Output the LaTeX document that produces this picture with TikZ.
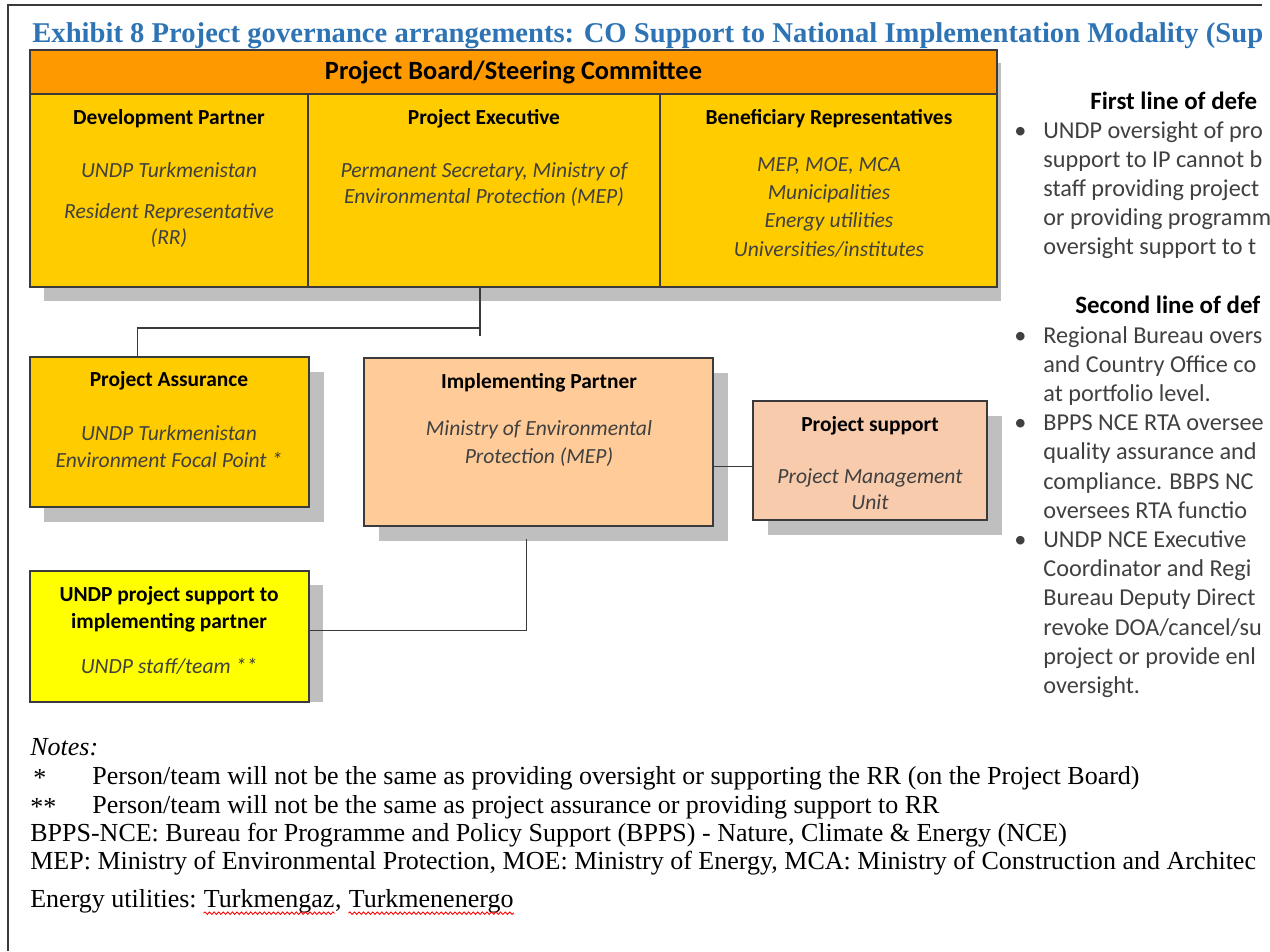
\documentclass[tikz,border=0pt]{standalone}
\usepackage{fontspec}
\setmainfont{Liberation Serif}
\newfontfamily\calibri{Carlito}
\usetikzlibrary{positioning,fit,shadows,decorations.pathmorphing}

\definecolor{titleblue}{HTML}{2E74B5}
\definecolor{boardorange}{HTML}{FF9900}
\definecolor{boardyellow}{HTML}{FFCC00}
\definecolor{ipfill}{HTML}{FFCC99}
\definecolor{psfill}{HTML}{F8CBAD}
\definecolor{undpyellow}{HTML}{FFFF00}
\definecolor{shadowgray}{HTML}{BFBFBF}
\definecolor{edgegray}{HTML}{3A3A3A}
\definecolor{textgray}{HTML}{404040}

\begin{document}
\begin{tikzpicture}[x=0.02cm, y=-0.02cm,
  box/.style={draw=edgegray, line width=1.1pt, inner sep=0pt},
  shadowed/.style={drop shadow={shadow xshift=0.29cm, shadow yshift=-0.29cm,
    fill=shadowgray, opacity=1}},
  head/.style={anchor=base, inner sep=0pt, font=\calibri\bfseries\fontsize{12.2}{14}\selectfont},
  sub/.style={anchor=base, inner sep=0pt, text=textgray,
    font=\calibri\itshape\fontsize{12.3}{14}\selectfont},
  side/.style={anchor=base west, inner sep=0pt, text=textgray,
    font=\calibri\fontsize{13.8}{16}\selectfont},
  sidehead/.style={anchor=base west, inner sep=0pt, font=\calibri\bfseries\fontsize{14.2}{16}\selectfont},
  note/.style={anchor=base west, inner sep=0pt, font=\fontsize{14.8}{17}\selectfont},
  link/.style={draw=edgegray, line width=1.1pt},
  spell/.style={draw=red, line width=0.5pt, decorate,
    decoration={snake, amplitude=0.7pt, segment length=2.6pt}}
]
\useasboundingbox (0,0) rectangle (1270,951);

% page frame
\draw[line width=1.2pt, edgegray] (8,951) -- (8,5) -- (1262,5);

\node[anchor=base west, inner sep=0pt, text=titleblue,
  font=\bfseries\fontsize{16.3}{18}\selectfont] (title) at (32,42)
  {Exhibit 8 Project governance arrangements: CO Support to National Implementation Modality (Sup};

% project board
\fill[shadowgray] (44,287) rectangle (1001,301);
\fill[shadowgray] (997,63) rectangle (1001,301);
\node[box, fill=boardorange, fit={(30,50) (997,94)}] (board) {};
\node[box, fill=boardyellow, fit={(30,94) (308,287)}] (dev) {};
\node[box, fill=boardyellow, fit={(308,94) (660,287)}] (exec) {};
\node[box, fill=boardyellow, fit={(660,94) (997,287)}] (bene) {};
\node[inner sep=0pt, font=\calibri\bfseries\fontsize{15}{17}\selectfont] (boardtxt)
  at (board.center) {Project Board/Steering Committee};

\node[head] (devhd) at (169,124) {Development Partner};
\node[sub] (dev1) at (169,177) {UNDP Turkmenistan};
\node[sub] (dev2) at (169,218) {Resident Representative};
\node[sub] (dev3) at (169,244) {(RR)};

\node[head] (exechd) at (484,124) {Project Executive};
\node[sub] (exec1) at (484,177) {Permanent Secretary, Ministry of};
\node[sub] (exec2) at (484,203) {Environmental Protection (MEP)};

\node[head] (benehd) at (829,124) {Beneficiary Representatives};
\node[sub] (bene1) at (829,171) {MEP, MOE, MCA};
\node[sub] (bene2) at (829,199) {Municipalities};
\node[sub] (bene3) at (829,227) {Energy utilities};
\node[sub] (bene4) at (829,256) {Universities/institutes};

% lower boxes
\node[box, shadowed, fill=boardyellow, fit={(30,357) (309,507)}] (pa) {};
\node[head] (pahd) at (169,386) {Project Assurance};
\node[sub] (pa1) at (169,440) {UNDP Turkmenistan};
\node[sub] (pa2) at (169,467) {Environment Focal Point *};

\node[box, shadowed, fill=ipfill, fit={(364,358) (713,526)}] (ip) {};
\node[head] (iphd) at (539,388) {Implementing Partner};
\node[sub] (ip1) at (539,435) {Ministry of Environmental};
\node[sub] (ip2) at (539,463) {Protection (MEP)};

\node[box, shadowed, fill=psfill, fit={(753,401) (987,520)}] (ps) {};
\node[head] (pshd) at (870,431) {Project support};
\node[sub] (ps1) at (870,483) {Project Management};
\node[sub] (ps2) at (870,509) {Unit};

\fill[shadowgray] (309,585) rectangle (323,702);
\node[box, fill=undpyellow, fit={(30,571) (309,702)}] (sup) {};
\node[head] (suphd1) at (169,601) {UNDP project support to};
\node[head] (suphd2) at (169,628) {implementing partner};
\node[sub] (sup1) at (169,673) {UNDP staff/team **};

% connectors
\draw[link] ([shift={(-4,0)}]exec.south) -- ++(0,48);
\draw[link] ([shift={(-32,0)}]pa.north) |- ([shift={(-4,40)}]exec.south);
\draw[link] ([shift={(0,6)}]ps.west -| ip.east) -- ([shift={(0,6)}]ps.west);
\draw[link] ([shift={(-12,12)}]ip.south) |- ([shift={(0,-6)}]sup.east);

% lines of defence
\node[sidehead] (first) at (1090,109) {First line of defe};
\node[side] (fb1) at (1014,138) {\textbullet};
\foreach \t [count=\i from 0] in {UNDP oversight of pro, support to IP cannot b,
    staff providing project, or providing programm, oversight support to t}
  \node[side] (fl\i) at (1043,138+29*\i) {\t};

\node[sidehead] (second) at (1075,313) {Second line of def};
\foreach \i in {0,3,7}
  \node[side] (sb\i) at (1014,343+29.2*\i) {\textbullet};
\foreach \t [count=\i from 0] in {Regional Bureau overs, and Country Office co,
    at portfolio level., BPPS NCE RTA oversee, quality assurance and,
    compliance. BBPS NC, oversees RTA functio, UNDP NCE Executive,
    Coordinator and Regi, Bureau Deputy Direct, revoke DOA/cancel/su,
    project or provide enl, oversight.}
  \node[side] (sl\i) at (1043,343+29.2*\i) {\t};

% notes
\node[note, font=\itshape\fontsize{14.8}{17}\selectfont] (notes) at (30,755) {Notes:};
\node[note] (star1) at (33,786) {*};
\node[note] (n1) at (92,784) {Person/team will not be the same as providing oversight or supporting the RR (on the Project Board)};
\node[note] (star2) at (30,815) {**};
\node[note] (n2) at (92,813) {Person/team will not be the same as project assurance or providing support to RR};
\node[note] (n3) at (30,841) {BPPS-NCE: Bureau for Programme and Policy Support (BPPS) - Nature, Climate \& Energy (NCE)};
\node[note] (n4) at (30,869) {MEP: Ministry of Environmental Protection, MOE: Ministry of Energy, MCA: Ministry of Construction and Architec};
\node[note] (n5) at (30,907) {Energy utilities:};
\node[note] (tkg) at ([xshift=3.7pt]n5.base east) {Turkmengaz};
\node[note] (comma) at (tkg.base east) {,};
\node[note] (tke) at ([xshift=3.7pt]comma.base east) {Turkmenenergo};
\draw[spell] ([yshift=-3.5pt]tkg.base west) -- ([yshift=-3.5pt]tkg.base east);
\draw[spell] ([yshift=-3.5pt]tke.base west) -- ([yshift=-3.5pt]tke.base east);
\end{tikzpicture}
\end{document}
